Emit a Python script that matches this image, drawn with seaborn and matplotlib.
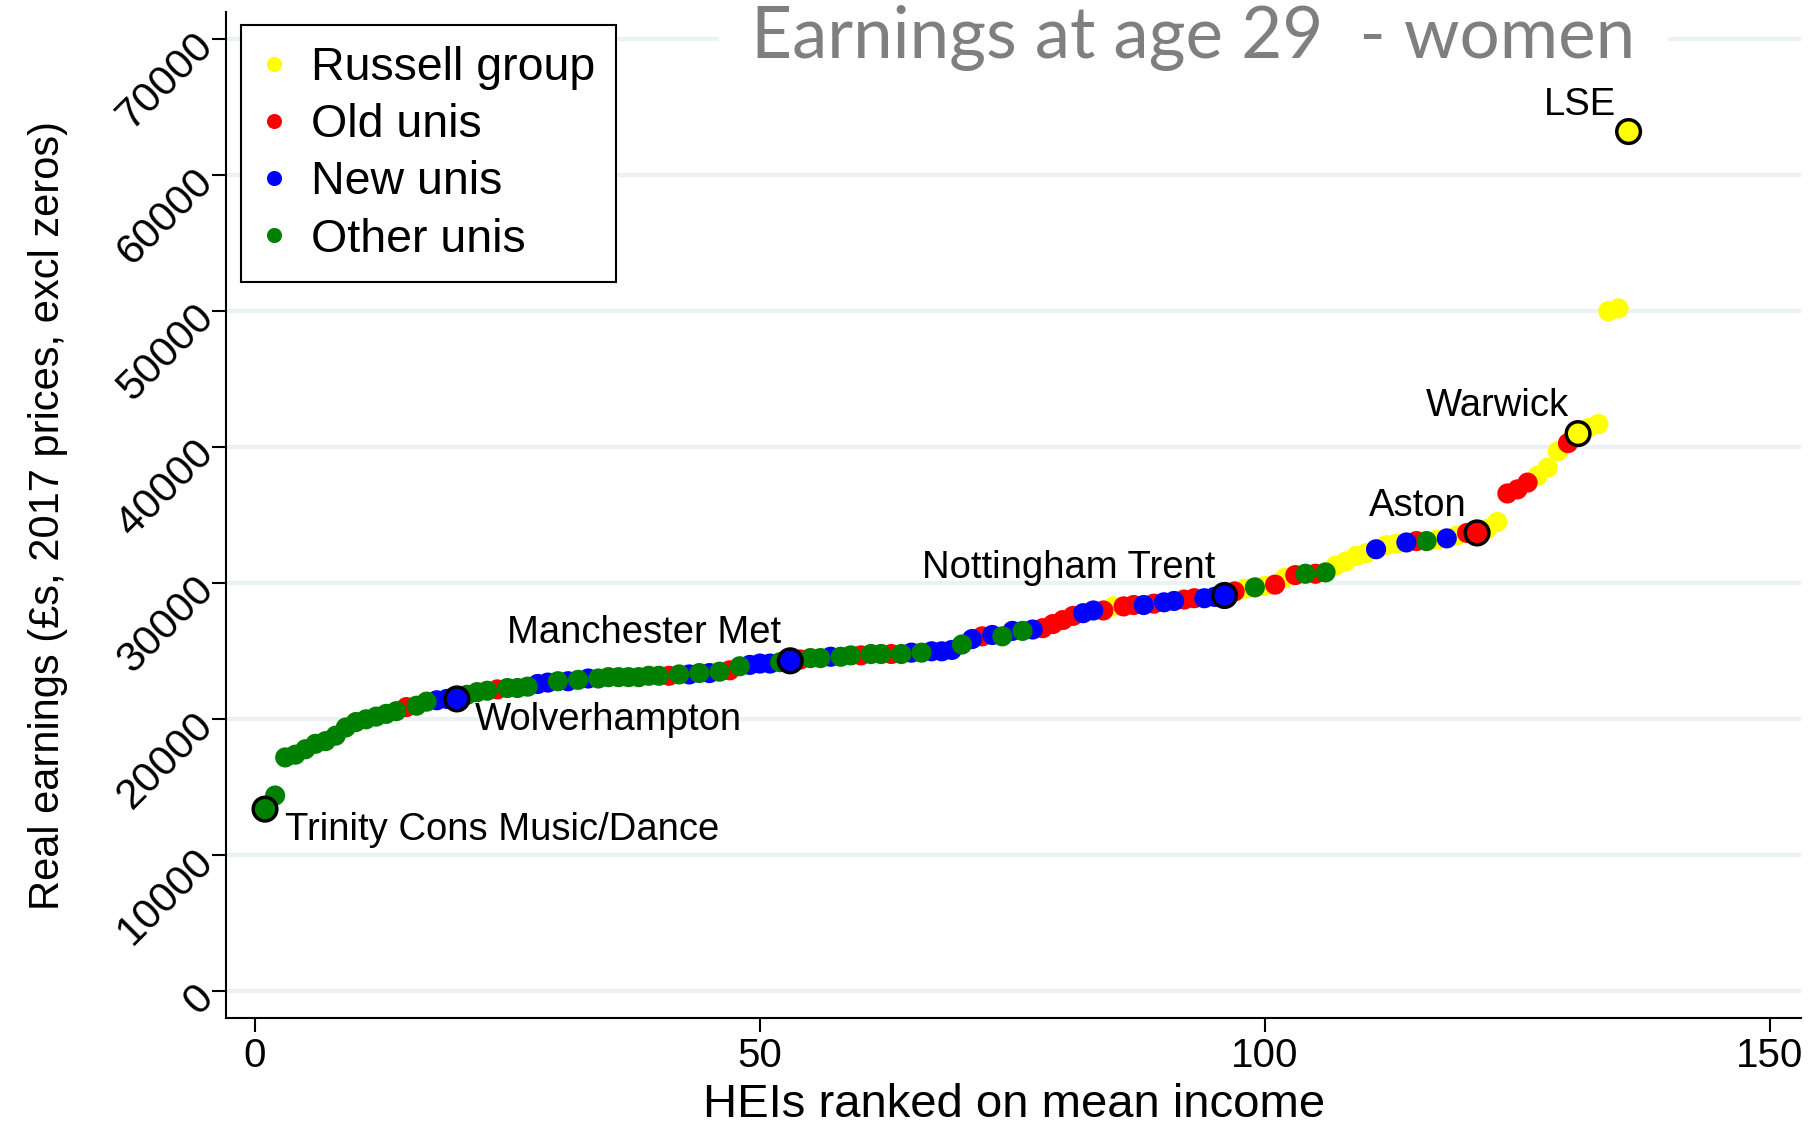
import pandas as pd
import seaborn as sns
import matplotlib
matplotlib.use('Agg')
import matplotlib.pyplot as plt

# mean earnings at age 29 (women), HEIs ordered by rank, in £
earnings = [13400, 14400, 17200, 17400, 17800, 18200, 18400, 18800, 19400, 19800,
            20000, 20200, 20400, 20600, 20900, 21000, 21300, 21400, 21500, 21500,
            21800, 22000, 22100, 22200, 22300, 22300, 22400, 22600, 22700, 22800,
            22800, 22900, 23000, 23000, 23100, 23100, 23100, 23100, 23200, 23200,
            23200, 23300, 23300, 23400, 23400, 23500, 23600, 23900, 24000, 24100,
            24100, 24200, 24300, 24400, 24500, 24500, 24600, 24600, 24700, 24700,
            24800, 24800, 24800, 24800, 24900, 24900, 25000, 25000, 25100, 25500,
            25900, 26100, 26200, 26100, 26500, 26500, 26600, 26700, 27000, 27300,
            27600, 27800, 28000, 28000, 28300, 28300, 28400, 28400, 28500, 28600,
            28700, 28800, 28900, 28900, 29000, 29100, 29400, 29600, 29700, 29800,
            29900, 30400, 30600, 30700, 30700, 30800, 31300, 31600, 32000, 32200,
            32500, 32800, 32900, 33000, 33100, 33100, 33200, 33300, 33500, 33700,
            33700, 34000, 34500, 36600, 36900, 37400, 37900, 38500, 39700, 40300,
            41000, 41400, 41700, 50000, 50200, 63200]

# university type of each HEI: Y russell, R old, B new, G other
group_codes = ['G', 'G', 'G', 'G', 'G', 'G', 'G', 'G', 'G', 'G',
               'G', 'G', 'G', 'G', 'R', 'G', 'G', 'B', 'B', 'B',
               'G', 'G', 'G', 'R', 'G', 'G', 'G', 'B', 'B', 'G',
               'B', 'G', 'B', 'G', 'G', 'G', 'G', 'G', 'G', 'G',
               'R', 'G', 'B', 'G', 'B', 'G', 'R', 'G', 'B', 'B',
               'B', 'G', 'B', 'R', 'G', 'G', 'B', 'G', 'G', 'R',
               'G', 'G', 'R', 'G', 'B', 'G', 'B', 'B', 'B', 'G',
               'B', 'R', 'B', 'G', 'B', 'G', 'B', 'R', 'R', 'R',
               'R', 'B', 'B', 'R', 'Y', 'R', 'R', 'B', 'R', 'B',
               'B', 'R', 'R', 'B', 'B', 'B', 'R', 'Y', 'G', 'Y',
               'R', 'Y', 'R', 'G', 'R', 'G', 'Y', 'Y', 'Y', 'Y',
               'B', 'Y', 'Y', 'B', 'R', 'G', 'Y', 'B', 'Y', 'R',
               'R', 'Y', 'Y', 'R', 'R', 'R', 'Y', 'Y', 'Y', 'R',
               'Y', 'Y', 'Y', 'Y', 'Y', 'Y']

group_names = {'Y': 'Russell group', 'R': 'Old unis', 'B': 'New unis', 'G': 'Other unis'}
group_order = ['Russell group', 'Old unis', 'New unis', 'Other unis']
group_colours = ['yellow', 'red', 'blue', 'green']

# labelled HEIs
label_ranks = [1, 20, 53, 96, 121, 131, 136]
label_names = ['Trinity Cons Music/Dance', 'Wolverhampton', 'Manchester Met',
               'Nottingham Trent', 'Aston', 'Warwick', 'LSE']

df = pd.DataFrame({'rank': range(1, len(earnings) + 1), 'earnings': earnings,
                   'group': [group_names[g] for g in group_codes]})
# stata draws the groups one after the other, other unis on top
df['order'] = df['group'].map({g: i for i, g in enumerate(group_order)})
df = df.sort_values(['order', 'rank'])

labelled = df.set_index('rank').loc[label_ranks].reset_index()
labelled['name'] = label_names

pal = dict(zip(group_order, group_colours))

plt.rcParams['font.family'] = ['Liberation Sans', 'DejaVu Sans']

fig = plt.figure(figsize=(18.14, 11.29), dpi=100)
ax = fig.add_axes([0.1246, 0.0983, 0.8684, 0.8907])

sns.scatterplot(ax=ax, data=df, x='rank', y='earnings', hue='group', hue_order=group_order,
                palette=pal, s=210, linewidth=0, zorder=3)
sns.scatterplot(ax=ax, data=labelled, x='rank', y='earnings', hue='group', hue_order=group_order,
                palette=pal, s=290, edgecolor='black', linewidth=2.5, legend=False, zorder=4)

# label positions: (dx, dy) in pixels, alignment
offsets = {'Trinity Cons Music/Dance': (20, -21, 'left'), 'Wolverhampton': (18, -21, 'left'),
           'Manchester Met': (-9, 28, 'right'), 'Nottingham Trent': (-9, 28, 'right'),
           'Aston': (-10, 27, 'right'), 'Warwick': (-9, 28, 'right'), 'LSE': (-12, 27, 'right')}
for i, row in labelled.iterrows():
    dx, dy, ha = offsets[row['name']]
    ax.annotate(row['name'], (row['rank'], row['earnings']), xytext=(dx, dy),
                textcoords='offset pixels', ha=ha, va='center', fontsize=27.5, zorder=5)

ax.set_xlim(-2.86, 153.1)
ax.set_ylim(-1954, 71957)
ax.set_xticks([0, 50, 100, 150])
ax.set_yticks(range(0, 70001, 10000))
ax.yaxis.grid(True, color='#eaf2f3', linewidth=3)
ax.set_axisbelow(True)
for s in ['top', 'right']:
    ax.spines[s].set_visible(False)
ax.spines['left'].set_linewidth(1.5)
ax.spines['bottom'].set_linewidth(1.5)
ax.tick_params(axis='both', length=10, width=1.5, labelsize=29)
ax.tick_params(axis='y', labelsize=30.5)
plt.setp(ax.get_yticklabels(), rotation=45, ha='right', va='center', rotation_mode='anchor')

ax.set_xlabel('HEIs ranked on mean income', fontsize=34, labelpad=6)
ax.set_ylabel('Real earnings (£s, 2017 prices, excl zeros)', fontsize=30, labelpad=30)

leg = ax.legend(loc='upper left', bbox_to_anchor=(0.0095, 0.987), borderaxespad=0,
                fontsize=33.5, markerscale=0.75, frameon=True, fancybox=False,
                handlelength=0.5, handletextpad=0.55, labelspacing=0.28, borderpad=0.45)
leg.get_frame().set_edgecolor('black')
leg.get_frame().set_linewidth(1.5)
leg.get_frame().set_alpha(1)

# title sits in a white box over the top gridline
fig.text(0.658, 0.966, ' Earnings at age 29  - women ', ha='center', va='center',
         fontsize=51, color='#7f7f7f', family='Lato',
         bbox=dict(facecolor='white', edgecolor='none', pad=10))

fig.savefig('out.png', dpi=100)
